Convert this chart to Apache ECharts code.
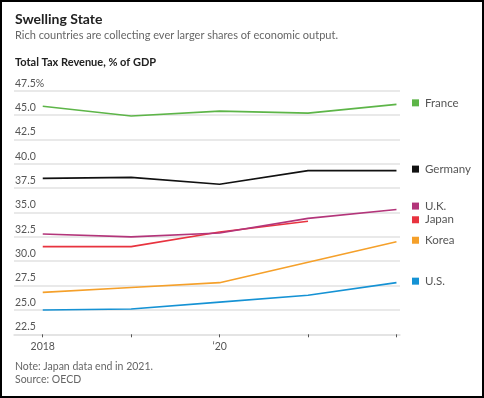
<!DOCTYPE html>
<html>
<head>
<meta charset="utf-8">
<script src="https://cdn.jsdelivr.net/npm/echarts@6/dist/echarts.min.js"></script>
<style>
html, body { margin: 0; padding: 0; background: #fff; }
#main { width: 484px; height: 398px; }
</style>
</head>
<body>
<div id="main"></div>
<script>
// data
var years = [2018, 2019, 2020, 2021, 2022];
var france = [45.9, 44.9, 45.4, 45.2, 46.1];
var germany = [38.5, 38.6, 37.9, 39.3, 39.3];
var uk = [32.8, 32.5, 32.9, 34.4, 35.3];
var japan = [31.5, 31.5, 33.0, 34.1];
var korea = [26.8, 27.3, 27.8, 29.9, 32.0];
var us = [25.0, 25.1, 25.8, 26.5, 27.8];
var names = ['France', 'Germany', 'U.K.', 'Japan', 'Korea', 'U.S.'];
var colors = ['#5db548', '#111111', '#b3357a', '#e8333f', '#f5a02a', '#1592d4'];
var yTicks = [22.5, 25, 27.5, 30, 32.5, 35, 37.5, 40, 42.5, 45, 47.5];
var xLabels = { 2018: '2018', 2020: '\u201820' };
// small nudges so stacked end labels don't collide
var labelNudge = [0, 0, -2, 0, 0, 0];

var chart = echarts.init(document.getElementById('main'));
var allValues = [france, germany, uk, japan, korea, us];

function pairs(vals) {
	return vals.map(function(v, i) { return [years[i], v]; });
}

var series = allValues.map(function(vals, i) {
	return {
		name: names[i],
		type: 'line',
		data: pairs(vals),
		symbol: 'none',
		lineStyle: { color: colors[i], width: 1.6 },
		itemStyle: { color: colors[i] },
		z: 10 - i
	};
});

var option = {
	animation: false,
	textStyle: { fontFamily: 'Lato, "Open Sans", sans-serif' },
	title: [
		{ text: 'Swelling State', left: 10, top: 7,
			textStyle: { fontSize: 14, fontWeight: 'bold', color: '#222', fontFamily: 'Lato' } },
		{ text: 'Rich countries are collecting ever larger shares of economic output.', left: 10, top: 25,
			textStyle: { fontSize: 11, fontWeight: 'normal', color: '#666', fontFamily: 'Lato' } },
		{ text: 'Total Tax Revenue, % of GDP', left: 10, top: 52,
			textStyle: { fontSize: 11, fontWeight: 'bold', color: '#222', fontFamily: 'Lato' } },
		{ text: 'Note: Japan data end in 2021.\nSource: OECD', left: 10, top: 355,
			textStyle: { fontSize: 10.5, fontWeight: 'normal', color: '#666', lineHeight: 13, fontFamily: 'Lato' } }
	],
	grid: { left: 14, right: 84, top: 90.7, bottom: 63.7 },
	xAxis: {
		type: 'value',
		min: 2017.675,
		max: 2022.04,
		splitLine: { show: false },
		axisLine: { show: true, lineStyle: { color: '#e2e2e2', width: 1.5 } },
		axisTick: { show: true, customValues: years, length: 3, lineStyle: { color: '#555' } },
		axisLabel: {
			customValues: years,
			formatter: function(v) { return xLabels[v] || ''; },
			color: '#555', fontSize: 10.5, margin: 7
		}
	},
	yAxis: {
		type: 'value',
		min: 22.5,
		max: 47.5,
		interval: 2.5,
		axisLine: { show: false },
		axisTick: { show: false },
		splitLine: { lineStyle: { color: '#e2e2e2', width: 1.5 } },
		axisLabel: {
			inside: true,
			verticalAlign: 'bottom',
			margin: 1,
			padding: [0, 0, 2, 0],
			color: '#555',
			fontSize: 10.5,
			formatter: function(v) {
				return v === yTicks[yTicks.length - 1] ? v.toFixed(1) + '%' : v.toFixed(1);
			}
		}
	},
	series: series
};
chart.setOption(option);

// end-of-line labels, placed through the chart's own scale
var graphics = [{
	type: 'rect', silent: true,
	shape: { x: 1, y: 1, width: 482, height: 396 },
	style: { fill: null, stroke: '#000', lineWidth: 2 }
}];
allValues.forEach(function(vals, i) {
	var last = vals.length - 1;
	var p = chart.convertToPixel({ gridIndex: 0 }, [years[last], vals[last]]);
	var y = p[1] - 1.5 + labelNudge[i];
	graphics.push({
		type: 'rect', silent: true,
		shape: { x: 412, y: y - 3.5, width: 7, height: 7 },
		style: { fill: colors[i] }
	});
	graphics.push({
		type: 'text', silent: true,
		x: 425, y: y,
		style: { text: names[i], fill: '#555', font: '11.5px Lato', verticalAlign: 'middle' }
	});
});
chart.setOption({ graphic: graphics });
</script>
</body>
</html>
